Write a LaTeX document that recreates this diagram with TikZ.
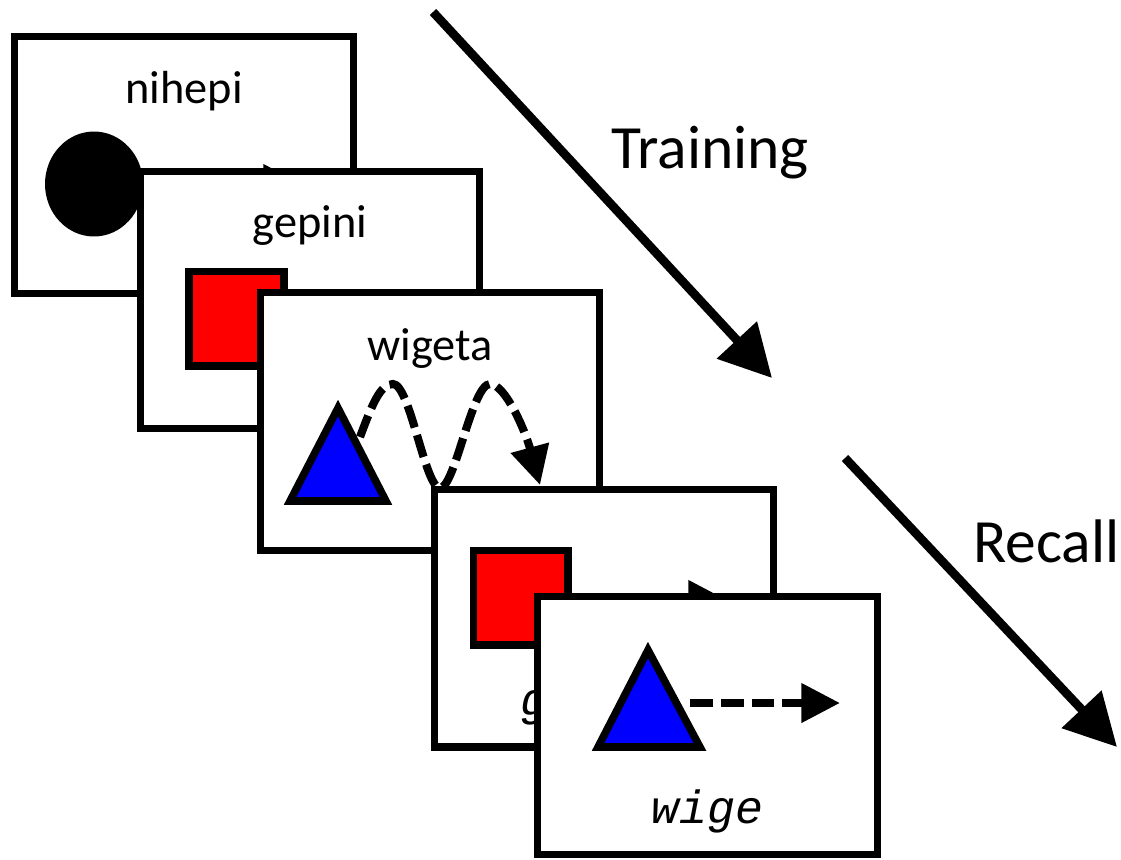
\documentclass[tikz,border=0pt]{standalone}
\usepackage{fontspec}
\setmainfont{Carlito}
\newfontfamily\cuefont{Liberation Mono}
\usetikzlibrary{arrows.meta,shapes.geometric}
\begin{document}
\begin{tikzpicture}[x=0.02cm,y=-0.02cm,
 card/.style={draw,fill=white,line width=4pt,line join=miter,minimum width=6.8cm,minimum height=5.16cm,inner sep=0pt},
 word/.style={anchor=base,inner sep=0pt,font=\fontsize{26.4}{30}\selectfont},
 cue/.style={anchor=base,inner sep=0pt,font=\cuefont\itshape\fontsize{26.5}{30}\selectfont},
 big/.style={anchor=base,inner sep=0pt,font=\fontsize{35}{40}\selectfont},
 sq/.style={draw,fill=red,line width=4pt,line join=miter,minimum size=1.9cm,inner sep=0pt},
 tri/.style={draw,fill=blue,line width=4.3pt,line join=miter},
 dasharrow/.style={line width=4.6pt,dash pattern=on 13pt off 4.5pt,-{Triangle[length=22pt,width=21.5pt]}},
 bigarrow/.style={line width=5pt,-{Triangle[length=29.5pt,width=30pt]}}]
\useasboundingbox (0,0) rectangle (1121,859);
% card 1
\node[card] (card1) at (184,165) {};
\node[word] (w1) at (184,103) {nihepi};
\node[ellipse,fill=black,minimum width=1.96cm,minimum height=2.1cm,inner sep=0pt] (circ) at (94,184) {};
\coordinate (a1) at (302,184);
\draw[dasharrow] (circ.east) -- (a1);
% card 2
\node[card] (card2) at (310,300) {};
\node[word] (w2) at (310,237) {gepini};
\node[sq] (sq2) at (236.5,318.5) {};
% card 3
\node[card] (card3) at (430,421.5) {};
\node[word] (w3) at (430,360) {wigeta};
\filldraw[tri] (290,501) coordinate (t3l) -- (386,501) coordinate (t3r) -- (338,408) coordinate (t3a) -- cycle;
\coordinate (s3) at (360,437);
\coordinate (e3) at (540,485);
\draw[dasharrow] (s3) .. controls (372,405) and (380,384) .. (393,384)
  .. controls (410,384) and (425,488) .. (440,488)
  .. controls (455,488) and (472,384) .. (490,384)
  .. controls (505,384) and (525,430) .. (e3);
% card 4
\node[card] (card4) at (604,618) {};
\node[cue] (w4) at (604,715) {gepini};
\node[sq] (sq4) at (520.5,597.5) {};
\coordinate (a4) at (727,600);
\draw[dasharrow] (sq4.east |- a4) -- (a4);
% card 5
\node[card] (card5) at (707.5,725.5) {};
\filldraw[tri] (598,747) coordinate (t5l) -- (700,747) coordinate (t5r) -- (648,650) coordinate (t5a) -- cycle;
\coordinate (s5) at (690,703);
\coordinate (e5) at (840,703);
\draw[dasharrow] (s5) -- (e5);
\node[cue] (w5) at (707.5,823) {wige};
% big arrows
\coordinate (tA) at (433,12);
\coordinate (tB) at (772,378);
\draw[bigarrow] (tA) -- (tB);
\node[big] (lt) at (710,168) {Training};
\coordinate (rA) at (845,458);
\coordinate (rB) at (1117,747);
\draw[bigarrow] (rA) -- (rB);
\node[big,anchor=base west] (lr) at (973,562) {Recall};
\end{tikzpicture}
\end{document}
